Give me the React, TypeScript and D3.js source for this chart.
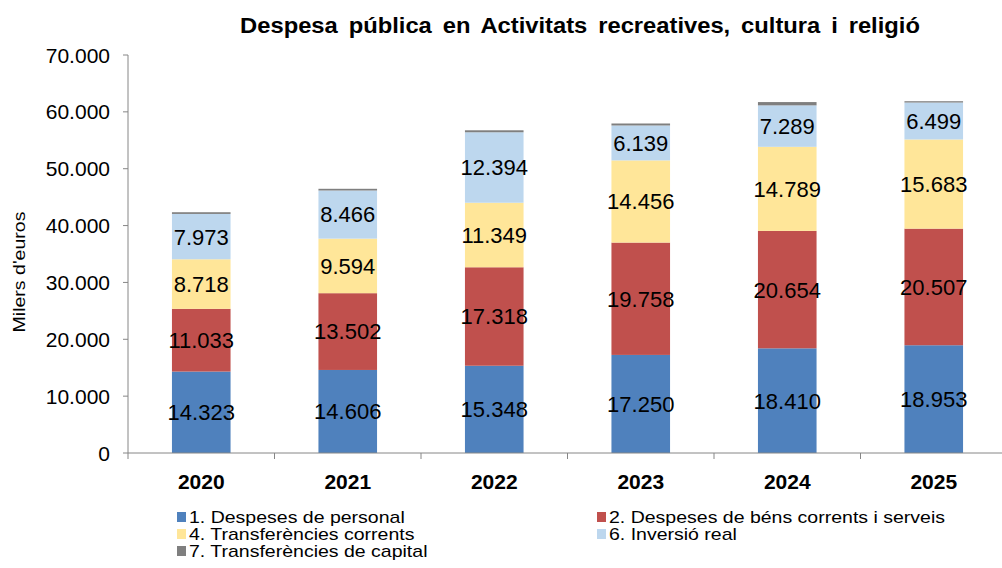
import React from "react";
import * as d3 from "d3";

const years = ["2020", "2021", "2022", "2023", "2024", "2025"];
const personal = [14323, 14606, 15348, 17250, 18410, 18953];
const bens = [11033, 13502, 17318, 19758, 20654, 20507];
const transfCorrents = [8718, 9594, 11349, 14456, 14789, 15683];
const inversio = [7973, 8466, 12394, 6139, 7289, 6499];
const transfCapital = [300, 300, 350, 350, 580, 230];

const seriesKeys = ["s1", "s2", "s4", "s6", "s7"];
const seriesNames = [
  "1. Despeses de personal",
  "2. Despeses de béns corrents i serveis",
  "4. Transferències corrents",
  "6. Inversió real",
  "7. Transferències de capital",
];
const seriesColors = ["#4F81BD", "#C0504D", "#FFE699", "#BDD7EE", "#7F7F7F"];
const labeledSeries = ["s1", "s2", "s4", "s6"];
const yTicks = [0, 10000, 20000, 30000, 40000, 50000, 60000, 70000];

const title = "Despesa pública en Activitats recreatives, cultura i religió";
const yLabel = "Milers d'euros";

const locale = d3.formatLocale({
  decimal: ",",
  thousands: ".",
  grouping: [3],
  currency: ["", " €"],
});
const fmt = locale.format(",d");

export default function App() {
  const W = 1002;
  const H = 568;
  const left = 128;
  const right = 1007;
  const top = 55;
  const bottom = 453;

  const rows = years.map((y, i) => ({
    year: y,
    s1: personal[i],
    s2: bens[i],
    s4: transfCorrents[i],
    s6: inversio[i],
    s7: transfCapital[i],
  }));

  const stack = d3.stack<any>().keys(seriesKeys);
  const stacked = stack(rows);

  const x = d3.scaleBand<string>().domain(years).range([left, right]).paddingInner(0.6).paddingOuter(0.3);
  const y = d3.scaleLinear().domain([0, 70000]).range([bottom, top]);

  const font = "'Liberation Sans', Arial, sans-serif";
  const axisColor = "#868686";
  const step = x.step();
  const boundaries = years.map((_, i) => left + i * step).concat([left + years.length * step]);

  const legendItems = [
    { i: 0, x: 177, y: 517 },
    { i: 1, x: 597, y: 517 },
    { i: 2, x: 177, y: 534 },
    { i: 3, x: 597, y: 534 },
    { i: 4, x: 177, y: 551 },
  ];

  return (
    <svg width={W} height={H} style={{ position: "absolute", left: 0, top: 0, background: "#fff" }} fontFamily={font}>
      <rect x={0} y={0} width={W} height={H} fill="#fff" />
      <g transform="translate(580, 33) scale(1.08,1)">
        <text x={0} y={0} textAnchor="middle" fontSize={22} fontWeight="bold" wordSpacing={4} fill="#000">
          {title}
        </text>
      </g>

      {/* bars */}
      {stacked.map((s, si) => (
        <g key={s.key} fill={seriesColors[si]}>
          {s.map((d: any) => (
            <rect
              key={d.data.year}
              x={x(d.data.year)}
              width={x.bandwidth()}
              y={y(d[1])}
              height={y(d[0]) - y(d[1])}
            />
          ))}
        </g>
      ))}

      {/* data labels */}
      {stacked
        .filter((s) => labeledSeries.includes(s.key))
        .map((s) => (
          <g key={"l" + s.key}>
            {s.map((d: any) => (
              <text
                key={d.data.year}
                x={(x(d.data.year) as number) + x.bandwidth() / 2}
                y={(y(d[0]) + y(d[1])) / 2}
                dy="0.36em"
                textAnchor="middle"
                fontSize={22}
                fill="#000"
              >
                {fmt(d[1] - d[0])}
              </text>
            ))}
          </g>
        ))}

      {/* y axis */}
      <line x1={left} x2={left} y1={top} y2={bottom} stroke={axisColor} strokeWidth={1} />
      {yTicks.map((t) => (
        <g key={t}>
          <line x1={left - 5} x2={left} y1={y(t)} y2={y(t)} stroke={axisColor} />
          <text x={110} y={y(t)} dy="0.36em" textAnchor="end" fontSize={21} fill="#000">
            {fmt(t)}
          </text>
        </g>
      ))}
      <g transform={`translate(25, 272) rotate(-90) scale(1.22,1)`}>
        <text x={0} y={0} textAnchor="middle" fontSize={16} fill="#000">
          {yLabel}
        </text>
      </g>

      {/* x axis */}
      <line x1={left} x2={W} y1={bottom} y2={bottom} stroke={axisColor} />
      {boundaries.map((b, i) => (
        <line key={i} x1={b} x2={b} y1={bottom} y2={bottom + 6} stroke={axisColor} />
      ))}
      {years.map((yr) => (
        <text
          key={yr}
          x={(x(yr) as number) + x.bandwidth() / 2}
          y={489}
          textAnchor="middle"
          fontSize={21}
          fontWeight="bold"
          fill="#000"
        >
          {yr}
        </text>
      ))}

      {/* legend */}
      {legendItems.map((it) => (
        <g key={it.i}>
          <rect x={it.x} y={it.y - 5} width={9} height={10} fill={seriesColors[it.i]} />
          <g transform={`translate(${it.x + 12}, ${it.y}) scale(1.22,1)`}>
            <text x={0} y={0} dy="0.36em" fontSize={16} fill="#000">
              {seriesNames[it.i]}
            </text>
          </g>
        </g>
      ))}
    </svg>
  );
}
